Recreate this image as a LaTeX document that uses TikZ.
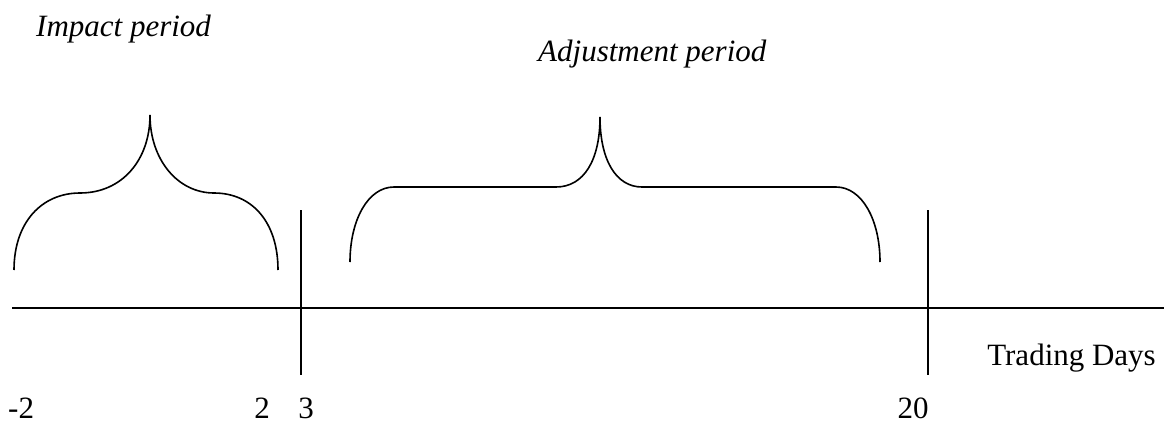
\documentclass[tikz,border=0pt]{standalone}
\usepackage{fontspec}
\setmainfont{Liberation Serif}
\begin{document}
\begin{tikzpicture}[x=1pt,y=-1pt,
  lbl/.style={inner sep=0pt,font=\fontsize{31}{37}\selectfont},
  axisline/.style={line width=2pt},
  tickline/.style={line width=1.4pt},
  bracel/.style={line width=1.6pt}]
\useasboundingbox (0,0) rectangle (1164,423);
% axis
\coordinate (ax0) at (12,308);
\coordinate (ax1) at (1164,308);
\draw[axisline] (ax0) -- (ax1);
% ticks
\coordinate (t3a) at (301,210); \coordinate (t3b) at (301,375);
\coordinate (t20a) at (928,210); \coordinate (t20b) at (928,375);
\draw[tickline] (t3a) -- (t3b);
\draw[tickline] (t20a) -- (t20b);
% left brace
\draw[bracel] (14,270) .. controls (14,222) and (42,193) .. (80,193)
  .. controls (122,193) and (150,160) .. (150,115)
  .. controls (150,160) and (178,193) .. (214,193)
  .. controls (252,193) and (278,222) .. (278,270);
% right brace
\draw[bracel] (350,262) .. controls (350,220) and (368,187) .. (394,187)
  -- (556,187) .. controls (584,187) and (600,160) .. (600,117)
  .. controls (600,160) and (616,187) .. (642,187)
  -- (836,187) .. controls (862,187) and (880,220) .. (880,262);
% labels
\node[lbl,anchor=base west] (imp) at (36,36) {\itshape Impact period};
\node[lbl,anchor=base west] (adj) at (538,61) {\itshape Adjustment period};
\node[lbl,anchor=base east] (td) at (1156,365) {Trading Days};
\node[lbl,anchor=base west] (lm2) at (8,418) {-2};
\node[lbl,anchor=base] (l2) at (262,418) {2};
\node[lbl,anchor=base] (l3) at (306,418) {3};
\node[lbl,anchor=base] (l20) at (913,418) {20};
\end{tikzpicture}
\end{document}
